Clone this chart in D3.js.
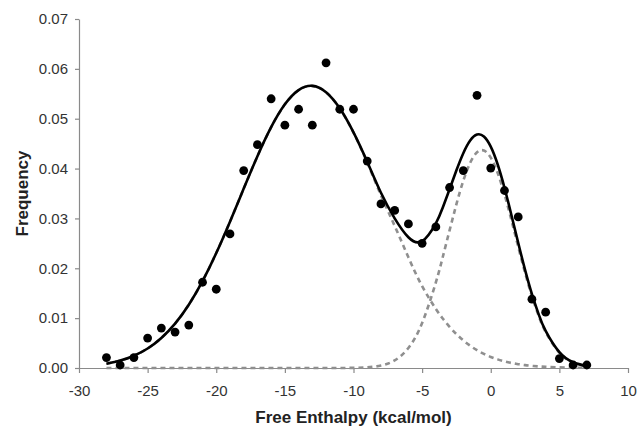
<!DOCTYPE html>
<html>
<head>
<meta charset="utf-8">
<script src="https://cdn.jsdelivr.net/npm/d3@7"></script>
<style>
  html, body { margin: 0; padding: 0; background: #fff; }
  svg { display: block; }
</style>
</head>
<body>
<svg id="chart" width="638" height="427"></svg>
<script>
// Observed data (free enthalpy in kcal/mol vs frequency)
const energies = [-28,-27,-26,-25,-24,-23,-22,-21,-20,-19,-18,-17,-16,-15,-14,-13,-12,-11,-10,-9,-8,-7,-6,-5,-4,-3,-2,-1,0,1,2,3,4,5,6,7];
const frequency = [0.0021,0.0006,0.0021,0.0060,0.0080,0.0072,0.0086,0.0172,0.0158,0.0269,0.0396,0.0448,0.0540,0.0487,0.0519,0.0487,0.0612,0.0519,0.0519,0.0415,0.0329,0.0316,0.0289,0.0250,0.0283,0.0362,0.0396,0.0547,0.0401,0.0356,0.0303,0.0138,0.0112,0.0019,0.0006,0.0006];

// Fitted curves
const fitX = [-28,-27,-26,-25,-24,-23,-22,-21,-20,-19,-18,-17,-16,-15,-14,-13,-12,-11,-10,-9,-8,-7,-6,-5,-4,-3.5,-3,-2.5,-2,-1.5,-1,-0.5,0,0.5,1,1.5,2,2.5,3,3.5,4,5,6,7];
const fitTotal = [0.00086,0.00148,0.00245,0.00391,0.00602,0.00891,0.01270,0.01743,0.02305,0.02935,0.03598,0.04248,0.04830,0.05288,0.05574,0.05659,0.05532,0.05208,0.04725,0.04135,0.03514,0.03002,0.02622,0.02544,0.02902,0.03215,0.03585,0.03965,0.04308,0.04562,0.04683,0.04645,0.04441,0.04087,0.03616,0.03074,0.02511,0.01968,0.01483,0.01071,0.00744,0.00318,0.00116,0.00036];
const fitComp1 = [0.00086,0.00148,0.00245,0.00391,0.00602,0.00891,0.01270,0.01743,0.02305,0.02935,0.03598,0.04248,0.04830,0.05288,0.05574,0.05659,0.05532,0.05208,0.04722,0.04122,0.03465,0.02850,0.02220,0.01641,0.01186,0.00994,0.00826,0.00679,0.00554,0.00447,0.00357,0.00283,0.00222,0.00173,0.00133,0.00101,0.00077,0.00057,0.00043,0.00031,0.00023,0.00012,0.00006,0.00003];
const fitComp2 = [0,0,0,0,0,0,0,0,0,0,0,0,0,0,0,0,0,0,0.00003,0.00013,0.00049,0.00152,0.00402,0.00903,0.01716,0.02221,0.02759,0.03286,0.03754,0.04115,0.04326,0.04362,0.04219,0.03914,0.03483,0.02973,0.02434,0.01911,0.01440,0.01040,0.00721,0.00306,0.00110,0.00033];

const xTicks = [-30,-25,-20,-15,-10,-5,0,5,10];
const yTicks = [0,0.01,0.02,0.03,0.04,0.05,0.06,0.07];
const xTitle = "Free Enthalpy (kcal/mol)";
const yTitle = "Frequency";

const svg = d3.select("#chart");
const margin = {left: 79, top: 19, right: 10, bottom: 59};
const W = 638 - margin.left - margin.right;
const H = 427 - margin.top - margin.bottom;

const x = d3.scaleLinear().domain([-30, 10]).range([0, W]);
const y = d3.scaleLinear().domain([0, 0.07]).range([H, 0]);

const g = svg.append("g").attr("transform", `translate(${margin.left},${margin.top})`);

const axisColor = "#8a8a8a";
const font = "'Liberation Sans', Arial, sans-serif";

// X axis
const xAxis = g.append("g").attr("transform", `translate(0,${H})`)
  .call(d3.axisBottom(x).tickValues(xTicks).tickFormat(d => String(d)).tickSize(5).tickSizeOuter(0).tickPadding(12));
// Y axis
const yAxis = g.append("g")
  .call(d3.axisLeft(y).tickValues(yTicks).tickFormat(d3.format(".2f")).tickSize(4).tickSizeOuter(0).tickPadding(7));

[xAxis, yAxis].forEach(a => {
  a.select(".domain").attr("stroke", axisColor).attr("stroke-width", 1.2);
  a.selectAll(".tick line").attr("stroke", axisColor).attr("stroke-width", 1.2);
  a.selectAll(".tick text").attr("fill", "#333").style("font-family", font).style("font-size", "15px");
});

// Lines
const line = d3.line().curve(d3.curveNatural);
const toPts = arr => fitX.map((xv, i) => [x(xv), y(arr[i])]);

g.append("path").attr("d", line(toPts(fitComp1)))
  .attr("fill", "none").attr("stroke", "#8f8f8f").attr("stroke-width", 2.6).attr("stroke-dasharray", "5,4");
g.append("path").attr("d", line(toPts(fitComp2)))
  .attr("fill", "none").attr("stroke", "#8f8f8f").attr("stroke-width", 2.6).attr("stroke-dasharray", "5,4");
g.append("path").attr("d", line(toPts(fitTotal)))
  .attr("fill", "none").attr("stroke", "#000").attr("stroke-width", 2.6);

// Points
g.selectAll("circle.pt").data(energies).enter().append("circle")
  .attr("class", "pt")
  .attr("cx", (d) => x(d))
  .attr("cy", (d, i) => y(frequency[i]))
  .attr("r", 4.4)
  .attr("fill", "#000");

// Titles
svg.append("text").attr("x", margin.left + W / 2).attr("y", 423)
  .attr("text-anchor", "middle").style("font-family", font).style("font-weight", "bold").style("font-size", "17px")
  .attr("fill", "#222").text(xTitle);
svg.append("text").attr("transform", `translate(28,${margin.top + H / 2}) rotate(-90)`)
  .attr("text-anchor", "middle").style("font-family", font).style("font-weight", "bold").style("font-size", "17px")
  .attr("fill", "#222").text(yTitle);
</script>
</body>
</html>
